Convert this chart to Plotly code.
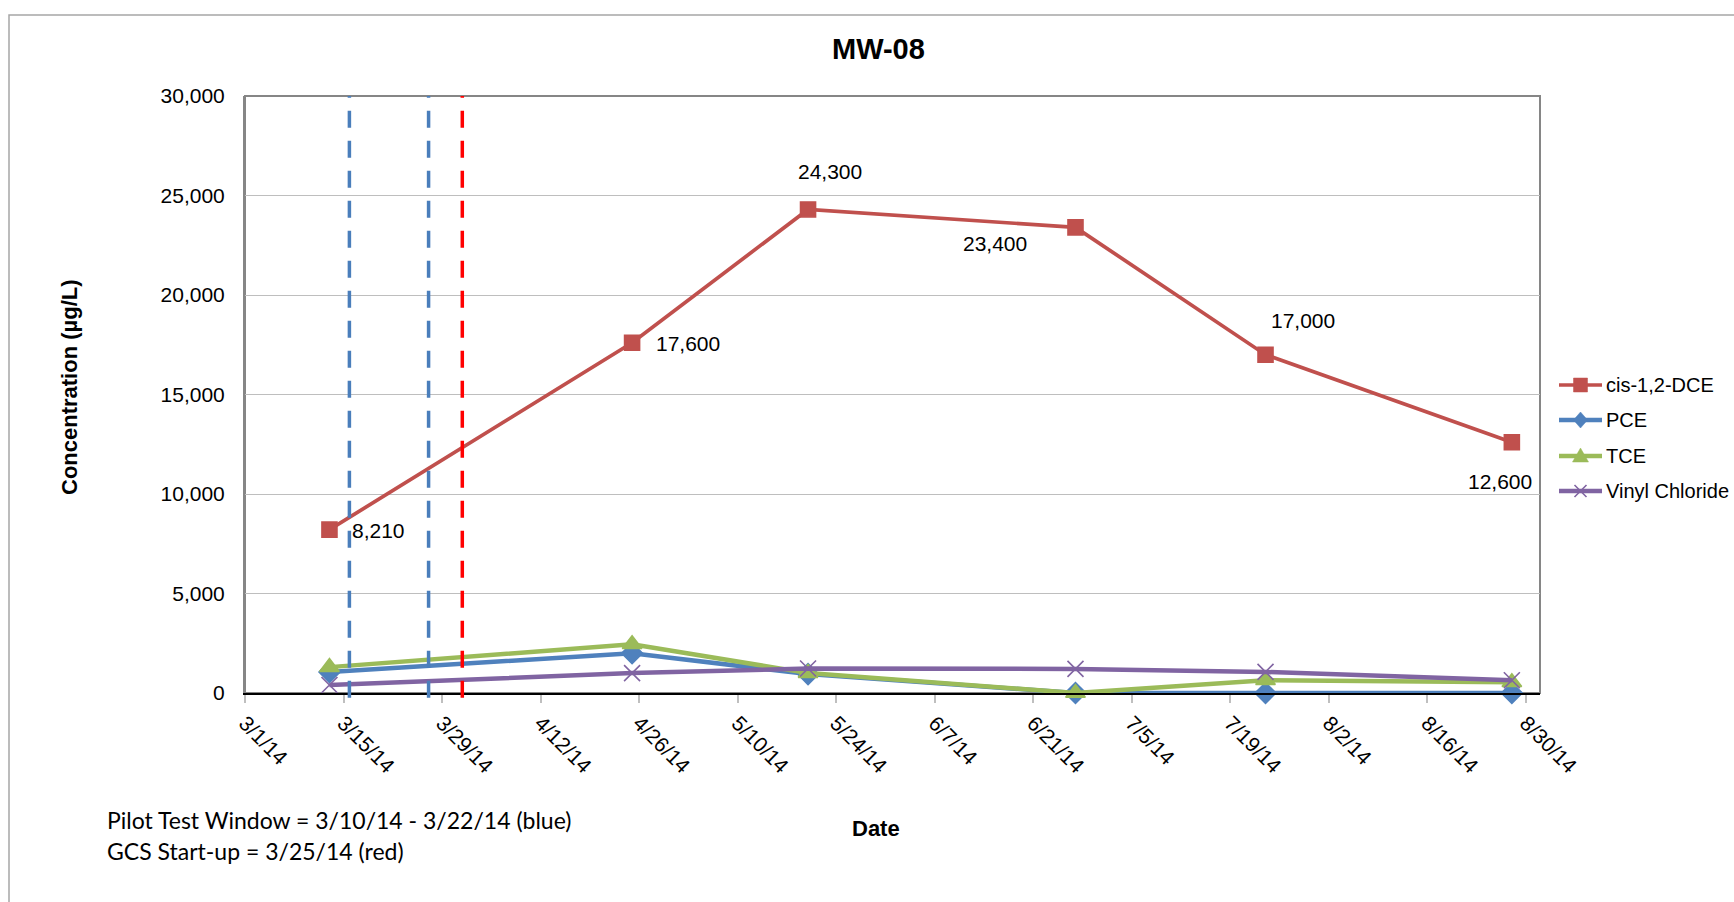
import plotly.graph_objects as go

# ---------------- data ----------------
sample_dates = ["2014-03-13", "2014-04-25", "2014-05-20", "2014-06-27", "2014-07-24", "2014-08-28"]
cis_dce = [8210, 17600, 24300, 23400, 17000, 12600]
pce = [1050, 2000, 950, 0, 0, 0]
tce = [1300, 2450, 1000, 0, 640, 540]
vinyl_chloride = [400, 1000, 1230, 1210, 1060, 640]

pilot_test_lines = ["2014-03-15 20:00", "2014-03-27 02:00"]
gcs_startup_lines = ["2014-03-31 21:00"]

x_tick_start = "2014-03-01"
x_range = ["2014-03-01", "2014-09-01"]
y_tick_values = [0, 5000, 10000, 15000, 20000, 25000, 30000]

series_names = ["cis-1,2-DCE", "PCE", "TCE", "Vinyl Chloride"]

# ---------------- layout helpers ----------------
W, H = 1734, 902
L, R, T, B = 245, 1540, 96, 693   # plot area in pixels


def px_x(p):
    return (p - L) / (R - L)


def px_y(p):
    return (B - p) / (B - T)


FONT = "Liberation Sans, Arial, sans-serif"

COLORS = ["#C0504D", "#4F81BD", "#9BBB59", "#8064A2"]
SYMBOLS = ["square", "diamond", "triangle-up", "x-thin"]
SIZES = [15, 16, 17, 16]
WIDTHS = [3.7, 4.5, 4.5, 4.5]

fig = go.Figure()

for name, vals, col, sym, sz, lw in zip(series_names, [cis_dce, pce, tce, vinyl_chloride],
                                         COLORS, SYMBOLS, SIZES, WIDTHS):
    fig.add_trace(go.Scatter(
        x=sample_dates, y=vals, name=name, mode="lines+markers",
        line=dict(color=col, width=lw),
        marker=dict(symbol=sym, size=sz, color=col, line=dict(color=col, width=1.6)),
        showlegend=False, cliponaxis=False))

# ---------------- manual legend (shapes + annotations, pixel positions) ----------------
legend_rows = [385, 420, 456, 491]
LEG_X0, LEG_X1, LEG_TXT = 1559, 1602, 1604
LEG_MID = (LEG_X0 + LEG_X1) / 2
LEG_PATHS = [
    "M-7,-7 L7,-7 L7,7 L-7,7 Z",               # square
    "M0,8 L7,0 L0,-8 L-7,0 Z",                 # diamond
    "M0,8 L8,-6 L-8,-6 Z",                     # triangle
    "M-6,-6 L6,6 M-6,6 L6,-6",                 # x
]
for name, col, lw, yy, path in zip(series_names, COLORS, WIDTHS, legend_rows, LEG_PATHS):
    fig.add_shape(type="line", xref="paper", yref="paper",
                  x0=px_x(LEG_X0), x1=px_x(LEG_X1), y0=px_y(yy), y1=px_y(yy),
                  line=dict(color=col, width=lw))
    is_x = path.count("Z") == 0
    fig.add_shape(type="path", xref="paper", yref="paper",
                  xsizemode="pixel", ysizemode="pixel",
                  xanchor=px_x(LEG_MID), yanchor=px_y(yy), path=path,
                  fillcolor="rgba(0,0,0,0)" if is_x else col,
                  line=dict(color=col, width=1.6 if is_x else 0.5))
    fig.add_annotation(xref="paper", yref="paper", x=px_x(LEG_TXT), y=px_y(yy), text=name,
                       showarrow=False, xanchor="left", yanchor="middle",
                       font=dict(family=FONT, size=20, color="#000"))

# data labels for cis-1,2-DCE (offsets in pixels)
label_dx = [49, 56, 22, -80, 37, -12]
label_dy = [-1, -1, 38, -16, 34, -39]
for d, v, dx, dy in zip(sample_dates, cis_dce, label_dx, label_dy):
    fig.add_annotation(x=d, y=v, xref="x", yref="y", text=f"{v:,}", showarrow=False,
                       xshift=dx, yshift=dy, font=dict(family=FONT, size=21, color="#000"))

# vertical dashed lines
for d in pilot_test_lines:
    fig.add_shape(type="line", xref="x", yref="paper", x0=d, x1=d, y0=-0.008, y1=1,
                  line=dict(color="#4A7EBB", width=3.5, dash="17px,13px"))
for d in gcs_startup_lines:
    fig.add_shape(type="line", xref="x", yref="paper", x0=d, x1=d, y0=-0.008, y1=1,
                  line=dict(color="#FF0000", width=3.5, dash="17px,13px"))

# plot area border
fig.add_shape(type="rect", xref="paper", yref="paper", x0=0, x1=1, y0=0, y1=1,
              line=dict(color="#868686", width=2), layer="below")
# outer chart border
fig.add_shape(type="rect", xref="paper", yref="paper",
              x0=px_x(9), x1=px_x(1800), y0=px_y(960), y1=px_y(15),
              line=dict(color="#A6A6A6", width=1.5), layer="below")

# title and axis titles
fig.add_annotation(xref="paper", yref="paper", x=px_x(878), y=px_y(49), text="<b>MW-08</b>",
                   showarrow=False, xanchor="center", yanchor="middle",
                   font=dict(family=FONT, size=29, color="#000"))
fig.add_annotation(xref="paper", yref="paper", x=px_x(69), y=px_y(387),
                   text="<b>Concentration (µg/L)</b>", textangle=-90,
                   showarrow=False, xanchor="center", yanchor="middle",
                   font=dict(family=FONT, size=22, color="#000"))
fig.add_annotation(xref="paper", yref="paper", x=px_x(876), y=px_y(828), text="<b>Date</b>",
                   showarrow=False, xanchor="center", yanchor="middle",
                   font=dict(family=FONT, size=22, color="#000"))

# notes
notes = ["Pilot Test Window = 3/10/14 - 3/22/14 (blue)", "GCS Start-up = 3/25/14 (red)"]
for txt, yp in zip(notes, [820, 851]):
    fig.add_annotation(xref="paper", yref="paper", x=px_x(105), y=px_y(yp), text=txt,
                       showarrow=False, xanchor="left", yanchor="middle",
                       font=dict(family="Lato, Carlito, sans-serif", size=23, color="#000"))

fig.update_layout(
    width=W, height=H,
    margin=dict(l=L, r=W - R, t=T, b=H - B, pad=0),
    paper_bgcolor="white", plot_bgcolor="white",
    font=dict(family=FONT, size=21, color="#000"),
    showlegend=False,
    xaxis=dict(
        type="date", range=x_range, tick0=x_tick_start, dtick=14 * 86400000,
        tickformat="%-m/%-d/%y", tickangle=45,
        showgrid=False, zeroline=False,
        showline=True, linecolor="#000", linewidth=1.5,
        ticks="outside", ticklen=8, tickcolor="#BFBFBF", tickwidth=1.5,
        tickfont=dict(family=FONT, size=21, color="#000"),
    ),
    yaxis=dict(
        range=[0, 30000], tickvals=y_tick_values, tickformat=",d",
        showgrid=True, gridcolor="#BEBEBE", gridwidth=1.2,
        zeroline=False, showline=True, linecolor="#868686", linewidth=2,
        ticks="outside", ticklen=14, tickcolor="rgba(0,0,0,0)",
        tickfont=dict(family=FONT, size=21, color="#000"),
    ),
)

fig.write_html("out.html",
               config={"displayModeBar": False},
               post_script="document.body.style.margin='0';document.body.style.overflow='hidden';")
